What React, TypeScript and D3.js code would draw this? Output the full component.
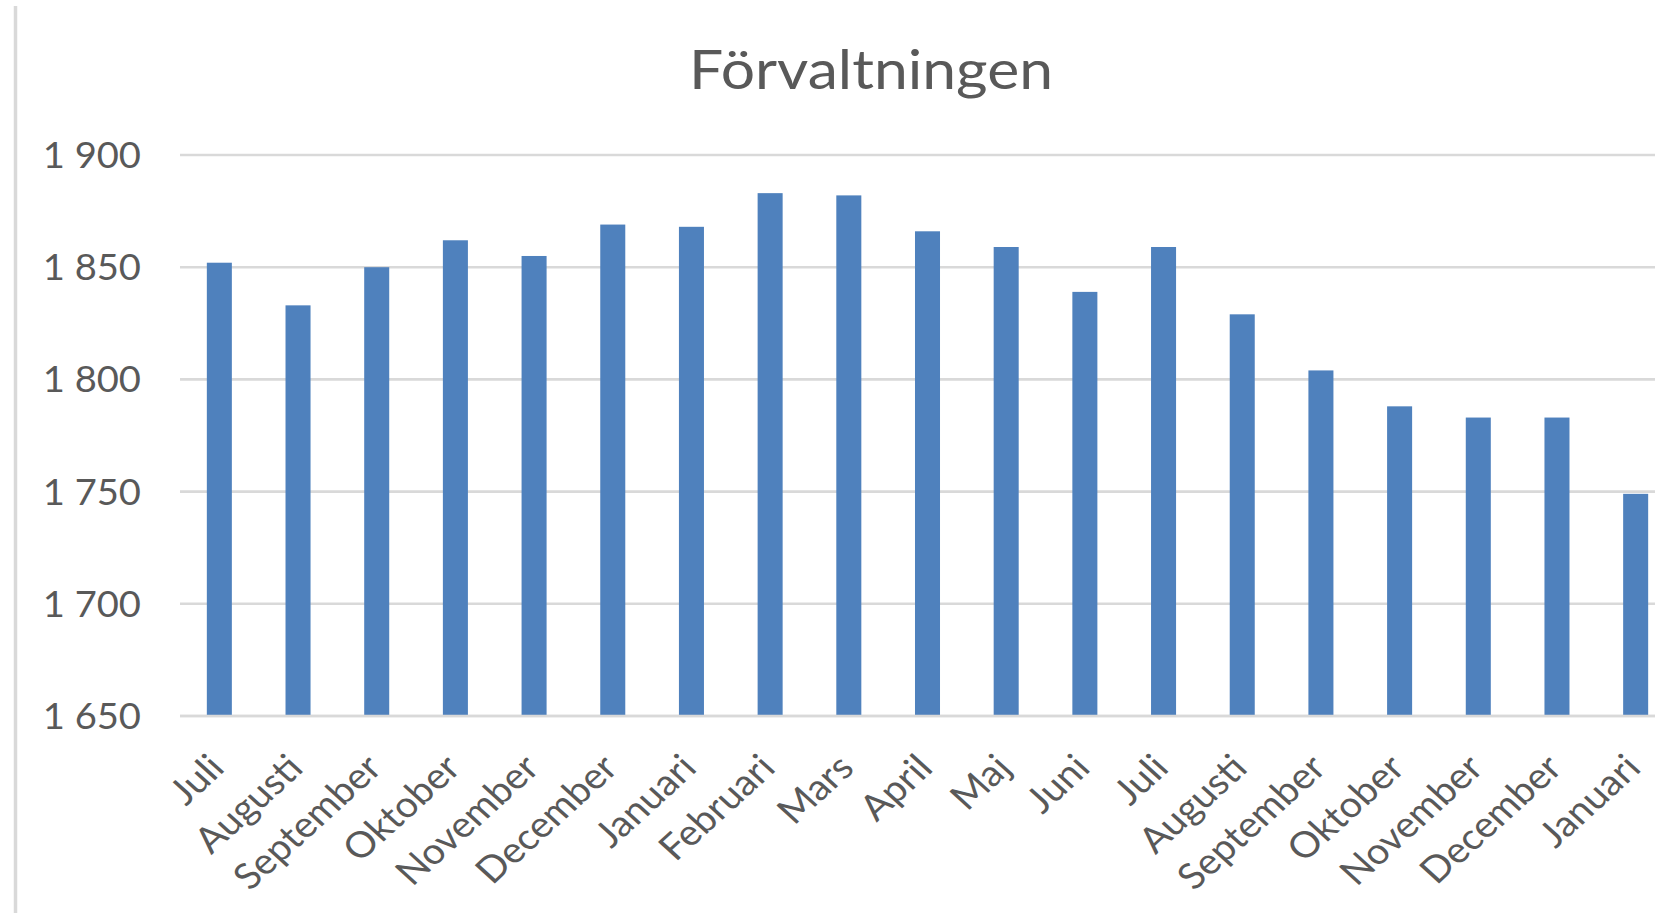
import React, { useEffect, useRef } from 'react';
import * as D3 from 'd3';

const title = 'Förvaltningen';

const months = [
    'Juli', 'Augusti', 'September', 'Oktober', 'November', 'December',
    'Januari', 'Februari', 'Mars', 'April', 'Maj', 'Juni',
    'Juli', 'Augusti', 'September', 'Oktober', 'November', 'December', 'Januari',
];

const staff = [
    1852, 1833, 1850, 1862, 1855, 1869,
    1868, 1883, 1882, 1866, 1859, 1839,
    1859, 1829, 1804, 1788, 1783, 1783, 1749,
];

const yTicks = [1650, 1700, 1750, 1800, 1850, 1900];

const dimensions = {
    width: 1655,
    height: 913,
    margin: {
        left: 180,
        top: 155,
        right: -20, // plot runs past the right edge, like the cropped original
        bottom: 197,
    }
}

const textColor = '#595959';
const gridColor = '#d9d9d9';
const barColor = '#4f81bd';
const font = 'Lato, "Open Sans", sans-serif';

const numFormat = D3.formatLocale({ decimal: ',', thousands: ' ', grouping: [3], currency: ['', ' kr'] }).format(',.0f');

const App = () => {

    const container = useRef(null);

    useEffect(() => {

        if (container.current) {

            D3.select(container.current).selectAll('*').remove();

            const svg = D3.select(container.current)
                .append('svg')
                .attr('width', dimensions.width)
                .attr('height', dimensions.height)
                .style('position', 'absolute')
                .style('left', '0px')
                .style('top', '0px')
                .style('background', '#ffffff');

            const x0 = dimensions.margin.left;
            const x1 = dimensions.width - dimensions.margin.right;
            const yBottom = dimensions.height - dimensions.margin.bottom;

            const xScale = D3.scaleBand<number>()
                .domain(months.map((_, i) => i))
                .range([x0, x1])
                .paddingInner(0.682)
                .paddingOuter(0.341);

            const yScale = D3.scaleLinear()
                .domain([1650, 1900])
                .range([yBottom, dimensions.margin.top]);

            // chart frame, only the left edge is visible in the crop
            svg.append('line')
                .attr('x1', 15.5).attr('x2', 15.5)
                .attr('y1', 6).attr('y2', dimensions.height)
                .attr('stroke', gridColor)
                .attr('stroke-width', 3.5);

            svg.append('text')
                .attr('x', 871)
                .attr('y', 89)
                .attr('text-anchor', 'middle')
                .attr('font-family', font)
                .attr('font-size', 54)
                .attr('textLength', 364)
                .attr('lengthAdjust', 'spacingAndGlyphs')
                .attr('fill', textColor)
                .text(title);

            // gridlines
            svg.append('g')
                .selectAll('line')
                .data(yTicks)
                .join('line')
                .attr('x1', x0)
                .attr('x2', dimensions.width)
                .attr('y1', d => yScale(d))
                .attr('y2', d => yScale(d))
                .attr('stroke', gridColor)
                .attr('stroke-width', 2.6);

            // y tick labels (slightly wide, like the stretched original)
            svg.append('g')
                .selectAll('text')
                .data(yTicks)
                .join('text')
                .attr('transform', d => `translate(141, ${yScale(d)}) scale(1.06, 1)`)
                .attr('dy', '0.36em')
                .attr('text-anchor', 'end')
                .attr('font-family', font)
                .attr('font-size', 36)
                .attr('fill', textColor)
                .text(d => numFormat(d));

            // bars
            svg.append('g')
                .selectAll('rect')
                .data(staff)
                .join('rect')
                .attr('x', (_, i) => xScale(i) as number)
                .attr('width', xScale.bandwidth())
                .attr('y', d => yScale(d))
                .attr('height', d => yBottom - yScale(d))
                .attr('fill', barColor);

            // redraw the axis line over bar bottoms
            svg.append('line')
                .attr('x1', x0).attr('x2', dimensions.width)
                .attr('y1', yBottom).attr('y2', yBottom)
                .attr('stroke', gridColor)
                .attr('stroke-width', 2.6);

            // month labels, rotated -45
            svg.append('g')
                .selectAll('text')
                .data(months)
                .join('text')
                .attr('transform', (_, i) => {
                    const cx = (xScale(i) as number) + xScale.bandwidth() / 2 + 7;
                    return `translate(${cx}, ${yBottom + 54}) scale(1.1, 1) rotate(-45)`;
                })
                .attr('text-anchor', 'end')
                .attr('font-family', font)
                .attr('font-size', 36)
                .attr('fill', textColor)
                .text(d => d);
        }

    }, [container.current])

    return (<div ref={container} />);

}

export default App;
